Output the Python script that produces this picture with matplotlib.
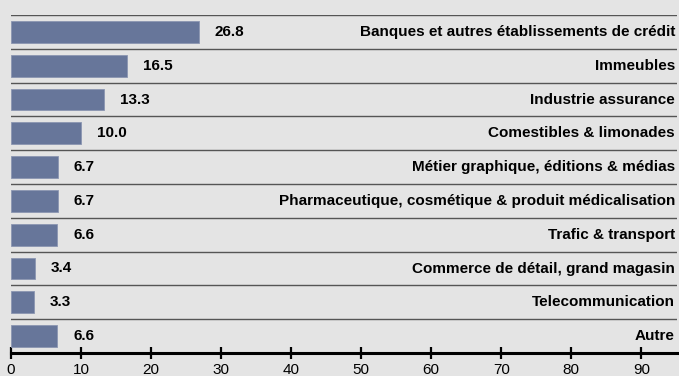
import matplotlib.pyplot as plt
import numpy as np

plt.rcParams['font.family'] = ['Liberation Sans', 'DejaVu Sans']

# Sector weights (%)
sectors = [
    "Banques et autres établissements de crédit",
    "Immeubles",
    "Industrie assurance",
    "Comestibles & limonades",
    "Métier graphique, éditions & médias",
    "Pharmaceutique, cosmétique & produit médicalisation",
    "Trafic & transport",
    "Commerce de détail, grand magasin",
    "Telecommunication",
    "Autre",
]
weights = [26.8, 16.5, 13.3, 10.0, 6.7, 6.7, 6.6, 3.4, 3.3, 6.6]

BG = "#e4e4e4"
BAR = "#67769a"

fig = plt.figure(figsize=(6.79, 3.76), dpi=100, facecolor=BG)
ax = fig.add_axes([11 / 679, 23 / 376, 666 / 679, 338 / 376], facecolor=BG)

n = len(sectors)
ypos = np.arange(n)[::-1]

ax.barh(ypos, weights, height=0.65, color=BAR, edgecolor="#8b96b2", linewidth=0.6, zorder=2)

# row separators
for k in range(n):
    ax.axhline(k + 0.5, color="#555555", linewidth=1.0, zorder=1)

for y, v, name in zip(ypos, weights, sectors):
    ax.annotate(f"{v:.1f}", xy=(v, y), xytext=(11.5, 0), textcoords="offset points",
                ha="left", va="center", fontsize=11, fontweight="bold")
    ax.annotate(name, xy=(1, y), xycoords=("axes fraction", "data"),
                xytext=(-1.5, 0), textcoords="offset points",
                ha="right", va="center", fontsize=11, fontweight="bold")

ax.set_xlim(0, 95.1)
ax.set_ylim(-0.5, n - 0.5)
ax.set_xticks(np.arange(0, 100, 10))
ax.set_yticks([])

for s in ["top", "left", "right"]:
    ax.spines[s].set_visible(False)
ax.spines["bottom"].set_linewidth(2.2)
ax.spines["bottom"].set_color("black")
ax.tick_params(axis="x", direction="inout", length=8, width=1.6, labelsize=11, pad=3)

fig.savefig("out.png", dpi=100, facecolor=BG)
